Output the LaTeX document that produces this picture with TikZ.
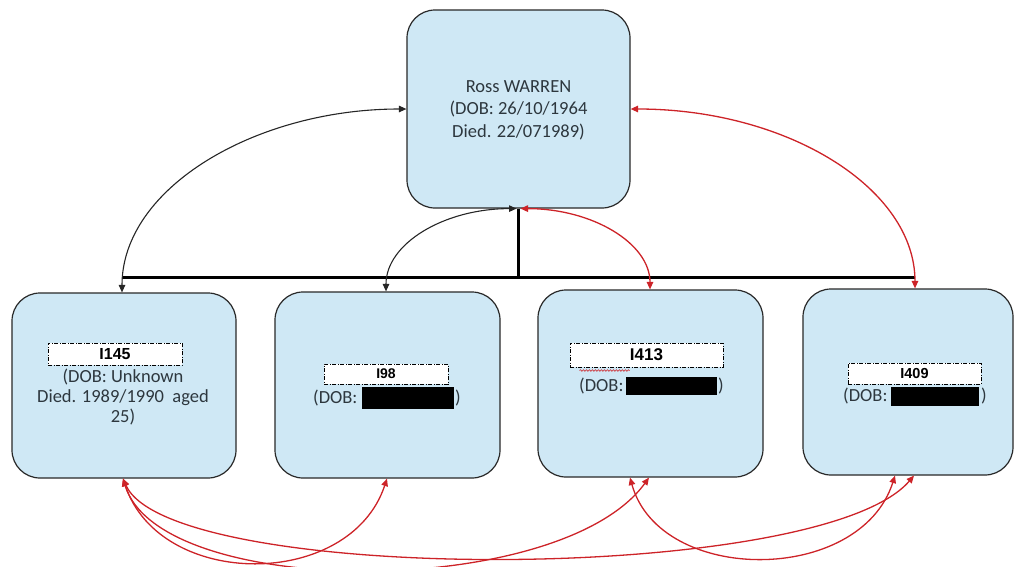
\documentclass[tikz,border=0pt]{standalone}
\usepackage{fontspec}
\setmainfont{Carlito}
\newfontfamily\labfont{Liberation Sans}
\usetikzlibrary{arrows.meta,decorations.pathmorphing,calc}
\definecolor{boxfill}{RGB}{207,232,245}
\definecolor{boxline}{RGB}{40,40,40}
\definecolor{txt}{RGB}{45,55,62}
\definecolor{redl}{RGB}{205,35,40}
\begin{document}
\begin{tikzpicture}[x=1pt,y=-1pt,
 person/.style={draw=boxline, line width=1.2pt, fill=boxfill, rounded corners=28pt, inner sep=0pt},
 idlabel/.style={draw=black, fill=white, line width=1pt, dash pattern=on 4pt off 1.5pt on 1pt off 1.5pt, inner sep=0pt, font=\labfont\bfseries},
 maintext/.style={text=txt, font=\fontsize{18.5}{22.5}\selectfont, align=center, inner sep=0pt},
 smalltext/.style={text=txt, font=\fontsize{18.5}{20}\selectfont, align=center, inner sep=0pt},
 redact/.style={fill=black, inner sep=0pt},
 blk/.style={draw=black!85, line width=1.1pt, {Triangle[length=7.5pt,width=6.5pt]}-{Triangle[length=7.5pt,width=6.5pt]}},
 rd/.style={draw=redl, line width=1.3pt, {Triangle[length=7.5pt,width=6.5pt]}-{Triangle[length=7.5pt,width=6.5pt]}},
 bar/.style={line width=3pt, black}
]
\useasboundingbox (0,0) rectangle (1015,566);
\clip (0,0) rectangle (1015,566);

% boxes
\node[person, minimum width=223pt, minimum height=198pt] (ross) at (518.5,109) {};
\node[maintext] (rosst) at (518.5,110) {Ross WARREN\\(DOB: 26/10/1964\\Died. 22/071989)};

\node[person, minimum width=224pt, minimum height=185pt] (c1) at (124,385.5) {};
\node[person, minimum width=225pt, minimum height=186pt] (c2) at (387.5,385) {};
\node[person, minimum width=225pt, minimum height=187pt] (c3) at (650.5,383.5) {};
\node[person, minimum width=210pt, minimum height=186pt] (c4) at (908,382) {};

% labels
\node[idlabel, minimum width=134pt, minimum height=22pt, font=\labfont\bfseries\fontsize{16}{16}\selectfont] (l1) at (115,354) {I145};
\node[smalltext] (t1) at (123,397) {(DOB: Unknown\\Died. 1989/1990\ \ aged\\25)};

\node[idlabel, minimum width=124pt, minimum height=20pt, font=\labfont\bfseries\fontsize{14}{14}\selectfont] (l2) at (386,374) {I98};
\node[maintext, anchor=west] (d2) at (313,398) {(DOB:};
\node[redact, minimum width=92pt, minimum height=22pt] (r2) at (408,398) {};
\node[maintext, anchor=west] (e2) at (455,398) {)};

\node[idlabel, minimum width=153pt, minimum height=24pt, font=\labfont\bfseries\fontsize{17}{17}\selectfont] (l3) at (646.5,355) {I413};
\draw[redl, line width=0.6pt, decorate, decoration={snake, amplitude=0.8pt, segment length=3pt}]
  ($(l3.south west)+(10,3)$) -- ($(l3.south west)+(60,3)$);
\node[maintext, anchor=west] (d3) at (579,386) {(DOB:};
\node[redact, minimum width=91pt, minimum height=18pt] (r3) at (671.5,386) {};
\node[maintext, anchor=west] (e3) at (718,386) {)};

\node[idlabel, minimum width=133pt, minimum height=21pt, font=\labfont\bfseries\fontsize{14.5}{14.5}\selectfont] (l4) at (914.5,373.5) {I409};
\node[maintext, anchor=west] (d4) at (843,396) {(DOB:};
\node[redact, minimum width=88pt, minimum height=19pt] (r4) at (935,396.5) {};
\node[maintext, anchor=west] (e4) at (981,396) {)};

% endpoints
\coordinate (c1n) at ([xshift=-2pt]c1.north);
\coordinate (c2n) at ([xshift=-1.5pt]c2.north);
\coordinate (c3n) at ([xshift=-0.5pt]c3.north);
\coordinate (c4n) at ([xshift=7pt]c4.north);
\coordinate (rsl) at ([xshift=-2pt]ross.south);
\coordinate (rsr) at ([xshift=2pt]ross.south);
\coordinate (c1s) at ([xshift=-1pt]c1.south);
\coordinate (c2s) at ([xshift=-0.5pt]c2.south);
\coordinate (c3sa) at ([xshift=-20.5pt]c3.south);
\coordinate (c3sb) at ([xshift=-1.5pt]c3.south);
\coordinate (c4sa) at ([xshift=-13pt]c4.south);
\coordinate (c4sb) at ([xshift=6pt]c4.south);
\coordinate (barL) at (122,277);
\coordinate (barR) at (915,277);

% family bar
\draw[bar] (ross.south) -- (ross.south |- barL);
\draw[bar] (barL) -- (barR);

% top arrows
\draw[blk] (c1n) .. controls ($(c1n)+(0,-105)$) and ($(ross.west)+(-150,0)$) .. (ross.west);
\draw[blk] (c2n) .. controls ($(c2n)+(0,-48)$) and ($(rsl)+(-72,0)$) .. (rsl);
\draw[rd] (rsr) .. controls ($(rsr)+(72,0)$) and ($(c3n)+(0,-46)$) .. (c3n);
\draw[rd] (ross.east) .. controls ($(ross.east)+(157,0)$) and ($(c4n)+(0,-100)$) .. (c4n);

% bottom arrows
\draw[rd] (c1s) .. controls (160,590) and (350,590) .. (c2s);
\draw[rd] (c1s) .. controls (160,600) and (560,600) .. (c3sb);
\draw[rd] (c1s) .. controls (170,585) and (820,585) .. (c4sb);
\draw[rd] (c3sa) .. controls (660,585) and (860,585) .. (c4sa);
\end{tikzpicture}
\end{document}
